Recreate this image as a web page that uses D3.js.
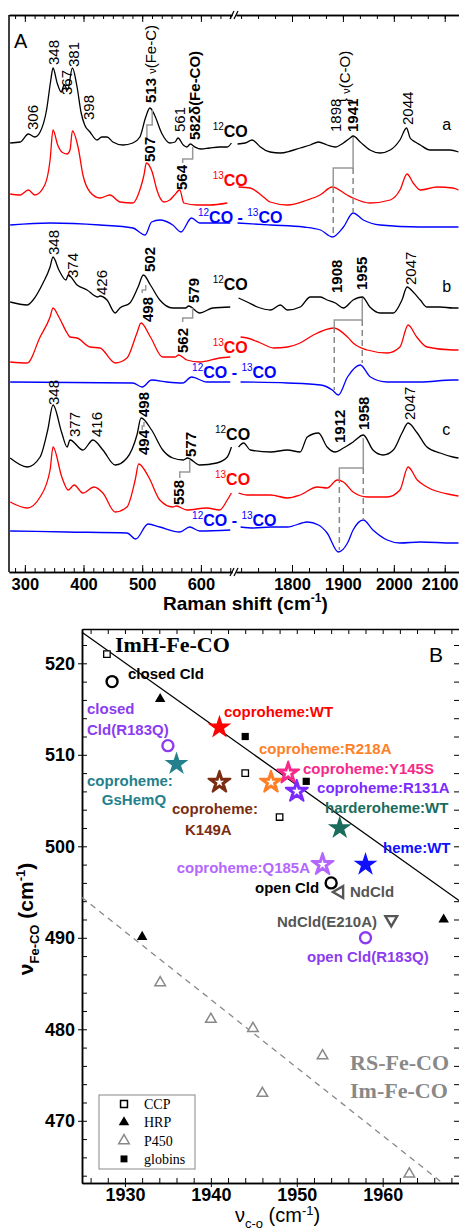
<!DOCTYPE html>
<html>
<head>
<meta charset="utf-8">
<script src="https://cdn.jsdelivr.net/npm/d3@7"></script>
<style>
  body { margin: 0; background: #fff; }
  svg { display: block; }
  text { font-family: "Liberation Sans", Arial, sans-serif; }
</style>
</head>
<body>
<div id="chart"></div>
<script>
// ---------- Panel A: Raman spectra, [wavenumber cm-1, intensity above trace baseline] ----------
var a12Low = [[275,4],[292,5],[306,13],[317,10],[326,15],[337,37],[344,66],[348,79],[355,64],[362,55],[367,62],[373,57],[381,79],[389,60],[396,34],[402,22],[411,15],[423,7],[431,10],[440,10],[450,5],[467,2],[484,4],[496,10],[506,30],[513,39],[521,32],[533,14],[547,4],[556,5],[561,9],[570,2],[576,0],[582,3],[590,0],[600,-2],[615,-1],[632,0],[645,0],[652,4]];
var a12High = [[1693,3],[1708,4],[1722,7],[1728,5],[1738,0],[1757,-5],[1777,-6],[1797,-4],[1816,-1],[1836,2],[1852,5],[1869,2],[1885,0],[1901,4],[1914,9],[1920,11],[1934,5],[1953,-3],[1973,-6],[1993,-3],[2012,7],[2025,19],[2032,9],[2042,5],[2052,2],[2071,-3],[2091,-3],[2110,-3],[2127,-5]];
var a13Low = [[275,6],[292,5],[306,10],[317,5],[334,15],[343,40],[348,70],[356,55],[363,48],[372,46],[377,50],[381,69],[391,52],[399,25],[411,8],[428,2],[445,5],[462,-2],[484,-3],[496,10],[503,25],[507,37],[517,28],[525,10],[537,-2],[547,0],[555,5],[564,10],[571,-3],[593,-5],[615,-5],[645,-3]];
var a13High = [[1695,13],[1718,12],[1744,3],[1757,-2],[1791,-5],[1830,0],[1855,5],[1879,13],[1908,5],[1920,2],[1953,-3],[1993,0],[2012,10],[2026,26],[2038,17],[2052,10],[2085,13],[2116,12],[2127,10]];
var aDiffLow = [[275,0],[343,2],[428,0],[484,-3],[505,-10],[516,3],[530,5],[552,0],[566,-7],[584,7],[598,2],[650,2]];
var aDiffHigh = [[1693,2],[1758,0],[1823,-2],[1856,-5],[1879,-12],[1901,-2],[1920,12],[1940,5],[1973,0],[2051,-2],[2116,-2],[2127,-2]];

var b12Low = [[275,5],[304,2],[314,7],[331,24],[343,40],[348,50],[358,37],[370,27],[374,32],[389,22],[406,17],[424,10],[428,11],[440,7],[454,-6],[462,-1],[479,4],[493,20],[502,32],[514,22],[530,7],[552,-1],[574,-1],[579,1],[598,-6],[620,-1],[650,0]];
var b12High = [[1695,9],[1712,5],[1732,0],[1758,-3],[1777,2],[1791,-3],[1816,0],[1836,10],[1856,10],[1869,7],[1885,4],[1901,-1],[1920,7],[1938,10],[1953,0],[1973,-6],[1999,-6],[2016,7],[2026,20],[2038,15],[2052,7],[2065,0],[2091,0],[2116,-1],[2127,-1]];
var b13Low = [[275,-5],[304,-6],[326,20],[343,40],[348,49],[358,40],[372,24],[377,20],[389,19],[411,10],[428,9],[454,-6],[474,-1],[491,24],[498,34],[514,20],[535,0],[556,0],[562,2],[576,-3],[598,-5],[632,-1],[650,0]];
var b13High = [[1699,20],[1712,19],[1738,14],[1764,9],[1791,10],[1816,14],[1842,22],[1882,29],[1909,20],[1920,14],[1948,7],[1987,4],[2012,10],[2028,32],[2045,20],[2065,10],[2116,7],[2127,7]];
var bDiffLow = [[275,0],[484,-1],[500,-5],[516,2],[542,0],[569,-1],[584,5],[610,0],[650,0]];
var bDiffHigh = [[1699,0],[1791,-1],[1856,-3],[1879,-8],[1891,-13],[1909,5],[1934,17],[1954,5],[1987,0],[2052,0],[2116,2],[2127,2]];

var c12Low = [[275,0],[304,-9],[326,1],[339,28],[348,53],[363,25],[372,11],[377,18],[399,8],[416,18],[433,8],[454,-7],[474,0],[491,23],[498,40],[516,28],[535,8],[552,0],[570,-2],[577,0],[598,-7],[627,-5],[645,1],[652,11]];
var c12High = [[1695,11],[1705,15],[1718,8],[1758,6],[1791,8],[1816,6],[1830,21],[1852,25],[1869,11],[1885,6],[1901,10],[1920,16],[1940,23],[1959,8],[1979,3],[1999,8],[2016,25],[2028,35],[2046,25],[2065,11],[2091,5],[2116,1],[2127,0]];
var c13Low = [[275,3],[304,-3],[326,8],[343,35],[348,58],[363,28],[374,15],[384,20],[399,12],[418,18],[433,12],[454,-7],[474,-2],[488,25],[494,41],[511,28],[530,5],[552,-2],[558,-1],[576,-5],[610,-3],[632,-5],[645,5],[652,12]];
var c13High = [[1695,12],[1712,10],[1758,10],[1791,7],[1816,10],[1850,18],[1869,17],[1889,25],[1901,23],[1920,13],[1948,8],[1987,8],[2012,15],[2028,38],[2046,25],[2065,18],[2116,10],[2127,9]];
var cDiffLow = [[275,0],[372,-1],[474,-2],[489,-8],[510,7],[530,4],[564,-1],[581,4],[598,0],[650,1]];
var cDiffHigh = [[1699,4],[1724,3],[1758,4],[1791,4],[1830,9],[1852,6],[1869,-2],[1891,-21],[1909,-12],[1920,1],[1940,11],[1959,1],[1987,-9],[2012,-12],[2052,-11],[2116,-12],[2127,-12]];

var traceLow = [a12Low, a13Low, aDiffLow, b12Low, b13Low, bDiffLow, c12Low, c13Low, cDiffLow];
var traceHigh = [a12High, a13High, aDiffHigh, b12High, b13High, bDiffHigh, c12High, c13High, cDiffHigh];
var traceOffsets = [425, 372, 347, 265, 215, 190, 114, 67, 41];
var traceColors = ["#000", "#ff0000", "#0000ff", "#000", "#ff0000", "#0000ff", "#000", "#ff0000", "#0000ff"];

var lowTicks = [300, 400, 500, 600];
var highTicks = [1800, 1900, 2000, 2100];

// ---------- Panel B: nu(Fe-CO) vs nu(C-O) ----------
var ccp = [[1927.9, 521.0], [1944.0, 508.0], [1948.0, 503.2]];
var hrp = [[1934.1, 516.1], [1932.0, 490.1], [1967.1, 492.0]];
var p450 = [[1934.1, 485.1], [1940.0, 481.1], [1944.9, 480.1], [1953.0, 477.1], [1946.0, 473.0], [1963.1, 464.2]];
var globins = [[1944.0, 512.0], [1951.1, 507.1]];

var proteins = ["coproheme:WT", "coproheme:GsHemQ", "coproheme:K149A", "coproheme:R218A", "coproheme:Y145S",
  "coproheme:R131A", "harderoheme:WT", "heme:WT", "coproheme:Q185A", "closed Cld", "closed Cld(R183Q)",
  "open Cld", "open Cld(R183Q)", "NdCld", "NdCld(E210A)"];
var proteinCO = [1941, 1936, 1941, 1947, 1949, 1950, 1955, 1958, 1953, 1928.5, 1935, 1954, 1958, 1955, 1961];
var proteinFeCO = [513, 509, 507, 507, 508, 506, 502, 498, 498, 518, 511, 496, 490, 495, 492];

var imhLine = [[1925, 523.4], [1969, 494.0]];
var rsLine = [[1925, 494.4], [1966.7, 463.4]];

var xBTicks = [1930, 1940, 1950, 1960];
var yBTicks = [470, 480, 490, 500, 510, 520];

// styles / label placement (not data)
var proteinShape = ["star", "star", "ostar", "ostar", "ostar", "ostar", "star", "star", "ostar", "circle", "circle", "circle", "circle", "triL", "triD"];
var proteinColor = ["#ff0000", "#23808c", "#7b2d12", "#ff7f27", "#f72a8a", "#7b2bff", "#1a6c5c", "#1010ff", "#b466ff", "#000", "#8c3cf0", "#000", "#8c3cf0", "#555", "#555"];
// label lines: [text, x (cm-1), y (cm-1), anchor]
var proteinLabels = [
  [["coproheme:WT", 1941.53, 514.13, "start"]],
  [["coproheme:", 1925.58, 506.59, "start"], ["GsHemQ", 1931.05, 504.51, "middle"]],
  [["coproheme:", 1935.48, 503.53, "start"], ["K149A", 1936.99, 501.23, "start"]],
  [["coproheme:R218A", 1945.6, 510.09, "start"]],
  [["coproheme:Y145S", 1950.73, 507.9, "start"]],
  [["coproheme:R131A", 1952.36, 505.83, "start"]],
  [["harderoheme:WT", 1953.29, 503.64, "start"]],
  [["heme:WT", 1960.04, 499.27, "start"]],
  [["coproheme:Q185A", 1951.54, 497.08, "end"]],
  [["closed Cld", 1930.35, 518.28, "start"]],
  [["closed", 1925.58, 514.46, "start"], ["Cld(R183Q)", 1925.58, 512.16, "start"]],
  [["open Cld", 1945.14, 494.9, "start"]],
  [["open Cld(R183Q)", 1951.19, 487.35, "start"]],
  [["NdCld", 1956.2, 494.46, "start"]],
  [["NdCld(E210A)", 1947.7, 491.18, "start"]]
];

// ================= drawing =================
var W = 459, H = 1231;
var svg = d3.select("#chart").append("svg").attr("width", W).attr("height", H);
svg.append("rect").attr("width", W).attr("height", H).attr("fill", "#fff");
var fmt = d3.format("d");

// ----- panel A -----
var xLow = d3.scaleLinear().domain([273, 653]).range([9, 232]);
var xHigh = d3.scaleLinear().domain([1690, 2128]).range([236, 459]);
var yA = d3.scaleLinear().domain([0, 557]).range([572, 15]);
var segX = {low: xLow, high: xHigh};

var gA = svg.append("g");

traceLow.forEach(function(d, i) {
  [[d, xLow], [traceHigh[i], xHigh]].forEach(function(p) {
    var line = d3.line()
      .x(function(q) { return p[1](q[0]); })
      .y(function(q) { return yA(traceOffsets[i] + q[1]); })
      .curve(d3.curveMonotoneX);
    gA.append("path").attr("d", line(p[0]))
      .attr("fill", "none").attr("stroke", traceColors[i]).attr("stroke-width", 1.3);
  });
});

// axes
function drawAxes(x, ticks, step) {
  var minor = d3.range(ticks[0] - step * Math.floor((ticks[0] - x.domain()[0]) / step), x.domain()[1], step);
  gA.append("g").attr("transform", "translate(0,572)")
    .call(d3.axisBottom(x).tickValues(minor).tickSize(-4).tickSizeOuter(0).tickFormat(""));
  var ax = gA.append("g").attr("transform", "translate(0,572)")
    .call(d3.axisBottom(x).tickValues(ticks).tickSize(-7).tickSizeOuter(0).tickPadding(6).tickFormat(fmt));
  ax.selectAll("text").style("font-size", "16.5px").style("font-weight", "bold").attr("fill", "#000");
  // keep the last label inside the window, as in the figure
  ax.selectAll("text").filter(function(d) { return x(d) + 19 > W; }).attr("text-anchor", "end").attr("x", W - x(ticks[ticks.length - 1]) - 1);
  gA.append("g").attr("transform", "translate(0,15)")
    .call(d3.axisTop(x).tickValues(minor).tickSize(-4).tickSizeOuter(0).tickFormat(""));
  gA.append("g").attr("transform", "translate(0,15)")
    .call(d3.axisTop(x).tickValues(ticks).tickSize(-7).tickSizeOuter(0).tickFormat(""));
}
drawAxes(xLow, lowTicks, 100 / 6);
drawAxes(xHigh, highTicks, 100 / 3);
gA.selectAll(".domain").attr("stroke-width", 1.5);
gA.append("line").attr("x1", 9).attr("x2", 9).attr("y1", 15).attr("y2", 572).attr("stroke", "#000").attr("stroke-width", 1.5);

// axis break marks
[15, 572].forEach(function(y) {
  [0, 4].forEach(function(dx) {
    gA.append("line").attr("x1", 230 + dx).attr("y1", y + 4).attr("x2", 234 + dx).attr("y2", y - 4)
      .attr("stroke", "#000").attr("stroke-width", 1.2);
  });
});

gA.append("text").attr("x", 163).attr("y", 610).style("font-size", "19px").style("font-weight", "bold")
  .call(function(t) {
    t.append("tspan").text("Raman shift (cm");
    t.append("tspan").attr("dy", -8).style("font-size", "12px").text("-1");
    t.append("tspan").attr("dy", 8).text(")");
  });
gA.append("text").attr("x", 14).attr("y", 48).style("font-size", "20px").text("A");

// grey step connectors between isotope peaks: [segment, v top, v bottom, y top, y mid, y bottom]
var steps = [
  ["low", 517, 508, 462, 447, 432], ["low", 586, 569, 425, 413, 409], ["high", 1920, 1881, 435, 404, 385],
  ["low", 506, 500, 287, 282, 279], ["low", 586, 569, 264, 254, 250], ["high", 1938, 1883, 274, 252, 245],
  ["low", 503, 500, 150, 146, 142], ["low", 581, 564, 112, 100, 94], ["high", 1940, 1893, 134, 104, 95]
];
var dashes = [
  ["high", 1881, 385, 335], ["high", 1920, 404, 359],
  ["high", 1883, 245, 182], ["high", 1938, 252, 209],
  ["high", 1893, 95, 22], ["high", 1940, 104, 52]
];
steps.forEach(function(s) {
  var x = segX[s[0]];
  gA.append("path")
    .attr("d", "M" + x(s[1]) + "," + yA(s[3]) + "V" + yA(s[4]) + "H" + x(s[2]) + "V" + yA(s[5]))
    .attr("fill", "none").attr("stroke", "#999").attr("stroke-width", 1.5);
});
dashes.forEach(function(s) {
  var x = segX[s[0]];
  gA.append("line").attr("x1", x(s[1])).attr("x2", x(s[1])).attr("y1", yA(s[2])).attr("y2", yA(s[3]))
    .attr("stroke", "#888").attr("stroke-width", 1.5).attr("stroke-dasharray", "6,4");
});

// peak labels (rotated)
var peakLabels = [
  ["low", 314, 442, [["306"]]], ["low", 350, 507, [["348"]]], ["low", 372, 477, [["367"]]],
  ["low", 384, 505, [["381"]]], ["low", 409, 452, [["398"]]],
  ["low", 515, 469, [["513 ", "b"], ["ν", "s"], ["(Fe-C)"]]],
  ["low", 564, 440, [["561"]]], ["low", 590, 432, [["582", "b"], ["δ(Fe-CO)", "b"]]],
  ["low", 513, 410, [["507", "b"]]], ["low", 568, 382, [["564", "b"]]],
  ["high", 1886, 440, [["1898"]]], ["high", 1920, 440, [["1941", "b"]]],
  ["high", 1904, 469, [["} "], ["ν", "s"], ["(C-O)"]]], ["high", 2028, 447, [["2044"]]],
  ["low", 350, 317, [["348"]]], ["low", 382, 294, [["374"]]], ["low", 431, 277, [["426"]]],
  ["low", 512, 300, [["502", "b"]]], ["low", 588, 269, [["579", "b"]]],
  ["low", 510, 250, [["498", "b"]]], ["low", 569, 219, [["562", "b"]]],
  ["high", 1888, 279, [["1908", "b"]]], ["high", 1937, 282, [["1955", "b"]]], ["high", 2034, 287, [["2047"]]],
  ["low", 350, 167, [["348"]]], ["low", 385, 135, [["377"]]], ["low", 423, 135, [["416"]]],
  ["low", 503, 155, [["498", "b"]]], ["low", 503, 117, [["494", "b"]]],
  ["low", 583, 115, [["577", "b"]]], ["low", 563, 67, [["558", "b"]]],
  ["high", 1894, 129, [["1912", "b"]]], ["high", 1941, 142, [["1958", "b"]]], ["high", 2032, 152, [["2047"]]]
];
peakLabels.forEach(function(p) {
  var t = gA.append("text")
    .attr("transform", "translate(" + segX[p[0]](p[1]) + "," + yA(p[2]) + ") rotate(-90)")
    .attr("dy", "0.35em").style("font-size", "15px");
  p[3].forEach(function(part) {
    var ts = t.append("tspan").text(part[0]);
    if (part[1] === "b") ts.style("font-weight", "bold");
    if (part[1] === "s") ts.style("font-size", "11px");
  });
});

// isotope labels: [segment v, y, colour, label parts]
var isoLabels = [
  [620, 435, "#000", ["12", "CO"]], [620, 386, "#ff0000", ["13", "CO"]], [595, 349, "#0000ff", ["12", "CO - ", "13", "CO"]],
  [620, 282, "#000", ["12", "CO"]], [620, 219, "#ff0000", ["13", "CO"]], [585, 194, "#0000ff", ["12", "CO - ", "13", "CO"]],
  [624, 132, "#000", ["12", "CO"]], [624, 87, "#ff0000", ["13", "CO"]], [585, 46, "#0000ff", ["12", "CO - ", "13", "CO"]]
];
isoLabels.forEach(function(l) {
  var t = gA.append("text").attr("x", xLow(l[0])).attr("y", yA(l[1])).attr("fill", l[2])
    .style("font-size", "16px").style("font-weight", "bold");
  l[3].forEach(function(s, k) {
    if (k % 2 === 0) t.append("tspan").attr("dy", -7).style("font-size", "10px").style("font-weight", "normal").text(s);
    else t.append("tspan").attr("dy", 7).text(s);
  });
});
[[2095, 442, "a"], [2095, 280, "b"], [2095, 137, "c"]].forEach(function(l) {
  gA.append("text").attr("x", xHigh(l[0])).attr("y", yA(l[1])).style("font-size", "16px").text(l[2]);
});

// ----- panel B -----
var xB = d3.scaleLinear().domain([1925, 1969]).range([82, 460]);
var yB = d3.scaleLinear().domain([463.2, 523.75]).range([1183, 629]);
var gB = svg.append("g");

var xMinor = d3.range(1926, 1969, 2);
var yMinor = d3.range(464, 524, 2);
gB.append("g").attr("transform", "translate(0,1183)")
  .call(d3.axisBottom(xB).tickValues(xMinor).tickSize(-5).tickSizeOuter(0).tickFormat(""));
gB.append("g").attr("transform", "translate(0,1183)")
  .call(d3.axisBottom(xB).tickValues(xBTicks).tickSize(4).tickSizeOuter(0).tickPadding(1).tickFormat(fmt))
  .selectAll("text").style("font-size", "18px").style("font-weight", "bold");
gB.append("g").attr("transform", "translate(0,629)")
  .call(d3.axisTop(xB).tickValues(xMinor).tickSize(-5).tickSizeOuter(0).tickFormat(""));
gB.append("g").attr("transform", "translate(82,0)")
  .call(d3.axisLeft(yB).tickValues(yMinor).tickSize(-5).tickSizeOuter(0).tickFormat(""));
gB.append("g").attr("transform", "translate(82,0)")
  .call(d3.axisLeft(yB).tickValues(yBTicks).tickSize(4).tickSizeOuter(0).tickPadding(3).tickFormat(fmt))
  .selectAll("text").style("font-size", "18px").style("font-weight", "bold");
gB.append("g").attr("transform", "translate(460,0)")
  .call(d3.axisRight(yB).tickValues(yMinor).tickSize(-6).tickSizeOuter(0).tickFormat(""));
gB.selectAll(".domain").attr("stroke-width", 1.5);

// correlation lines
var lineB = d3.line().x(function(d) { return xB(d[0]); }).y(function(d) { return yB(d[1]); });
gB.append("path").attr("d", lineB(imhLine)).attr("stroke", "#000").attr("stroke-width", 1.3).attr("fill", "none");
gB.append("path").attr("d", lineB(rsLine)).attr("stroke", "#888").attr("stroke-width", 1.3)
  .attr("stroke-dasharray", "6,5").attr("fill", "none");

function tr(d) { return "translate(" + xB(d[0]) + "," + yB(d[1]) + ")"; }
gB.selectAll(".ccp").data(ccp).enter().append("path").attr("transform", tr)
  .attr("d", d3.symbol(d3.symbolSquare, 42)()).attr("fill", "#fff").attr("stroke", "#000").attr("stroke-width", 1.3);
gB.selectAll(".glob").data(globins).enter().append("path").attr("transform", tr)
  .attr("d", d3.symbol(d3.symbolSquare, 52)()).attr("fill", "#000");
gB.selectAll(".hrp").data(hrp).enter().append("path").attr("transform", tr)
  .attr("d", d3.symbol(d3.symbolTriangle, 48)()).attr("fill", "#000");
gB.selectAll(".p450").data(p450).enter().append("path").attr("transform", tr)
  .attr("d", d3.symbol(d3.symbolTriangle, 48)()).attr("fill", "#fff").attr("stroke", "#888").attr("stroke-width", 1.5);

proteins.forEach(function(name, i) {
  var pos = [proteinCO[i], proteinFeCO[i]];
  var c = proteinColor[i], s = proteinShape[i];
  var g = gB.append("g").attr("transform", tr(pos));
  if (s === "star") {
    g.append("path").attr("d", d3.symbol(d3.symbolStar, 175)()).attr("fill", c);
  } else if (s === "ostar") {
    g.append("path").attr("d", d3.symbol(d3.symbolStar, 150)()).attr("fill", c).attr("stroke", c)
      .attr("stroke-width", 2).attr("stroke-linejoin", "round");
    g.append("path").attr("d", d3.symbol(d3.symbolStar, 28)()).attr("fill", "#fff");
  } else if (s === "circle") {
    g.append("circle").attr("r", 5.5).attr("fill", "#fff").attr("stroke", c).attr("stroke-width", 2.4);
  } else {
    g.append("path").attr("d", d3.symbol(d3.symbolTriangle, 60)())
      .attr("transform", s === "triL" ? "rotate(-90)" : "rotate(180)")
      .attr("fill", "#fff").attr("stroke", c).attr("stroke-width", 2.4);
  }
  proteinLabels[i].forEach(function(l) {
    gB.append("text").attr("x", xB(l[1])).attr("y", yB(l[2])).attr("text-anchor", l[3])
      .attr("fill", c).style("font-size", "15px").style("font-weight", "bold").text(l[0]);
  });
});

// panel B texts
var serif = "'Liberation Serif', 'Times New Roman', serif";
gB.append("text").attr("x", xB(1928.84)).attr("y", yB(521.24)).style("font-family", serif)
  .style("font-size", "22px").style("font-weight", "bold").text("ImH-Fe-CO");
gB.append("text").attr("x", xB(1956.2)).attr("y", yB(475.55)).style("font-family", serif).attr("fill", "#888")
  .style("font-size", "22px").style("font-weight", "bold").text("RS-Fe-CO");
gB.append("text").attr("x", xB(1956.2)).attr("y", yB(472.49)).style("font-family", serif).attr("fill", "#888")
  .style("font-size", "22px").style("font-weight", "bold").text("Im-Fe-CO");
gB.append("text").attr("x", 429).attr("y", 662).style("font-size", "21px").text("B");

// legend
var legend = gB.append("g");
legend.append("rect").attr("x", 99).attr("y", 1095).attr("width", 96).attr("height", 74)
  .attr("fill", "#fff").attr("stroke", "#888").attr("stroke-width", 1);
var legItems = [["CCP", d3.symbolSquare, "#fff", "#000"], ["HRP", d3.symbolTriangle, "#000", "none"],
  ["P450", d3.symbolTriangle, "#fff", "#888"], ["globins", d3.symbolSquare, "#000", "none"]];
legItems.forEach(function(it, k) {
  var y = 1104 + k * 18.3;
  legend.append("path").attr("transform", "translate(124," + y + ")")
    .attr("d", d3.symbol(it[1], 48)()).attr("fill", it[2]).attr("stroke", it[3]).attr("stroke-width", 1.5);
  legend.append("text").attr("x", 144).attr("y", y + 5).style("font-family", serif).style("font-size", "14px").text(it[0]);
});

// axis titles
gB.append("text").attr("transform", "translate(33,919) rotate(-90)").attr("text-anchor", "middle")
  .style("font-size", "21px").style("font-weight", "bold")
  .call(function(t) {
    t.append("tspan").text("ν");
    t.append("tspan").attr("dy", 6).style("font-size", "13px").text("Fe-CO");
    t.append("tspan").attr("dy", -6).text(" (cm");
    t.append("tspan").attr("dy", -8).style("font-size", "13px").text("-1");
    t.append("tspan").attr("dy", 8).text(")");
  });
gB.append("text").attr("x", 235).attr("y", 1222).style("font-size", "20px")
  .call(function(t) {
    t.append("tspan").text("ν");
    t.append("tspan").attr("dy", 6).style("font-size", "13px").text("c-o");
    t.append("tspan").attr("dy", -6).text(" (cm");
    t.append("tspan").attr("dy", -7).style("font-size", "13px").text("-1");
    t.append("tspan").attr("dy", 7).text(")");
  });
</script>
</body>
</html>
